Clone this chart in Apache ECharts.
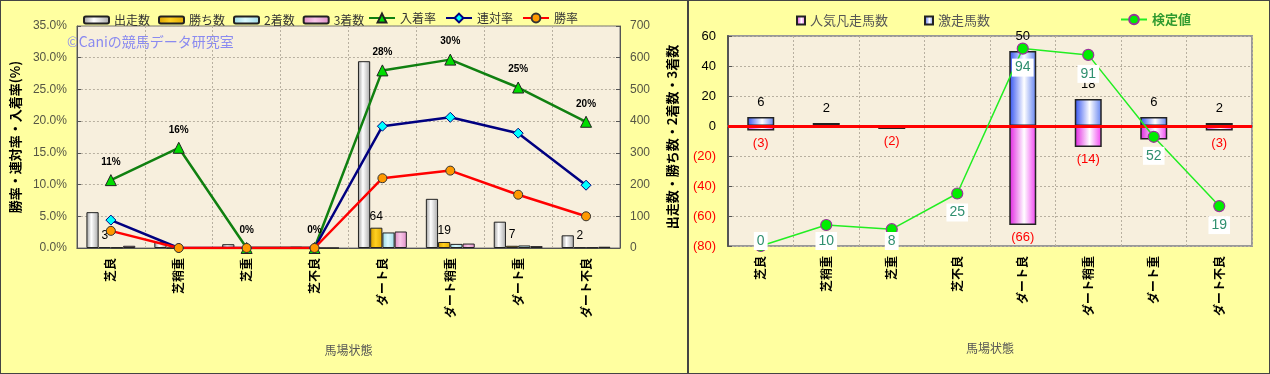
<!DOCTYPE html>
<html><head><meta charset="utf-8">
<script src="https://cdn.jsdelivr.net/npm/echarts@6/dist/echarts.min.js"></script>
<style>
html,body{margin:0;padding:0;background:#fff;}
.panel{position:absolute;top:0;height:374px;box-sizing:border-box;border:1px solid #444;background:#FFFFA0;}
#c1{left:0;width:688px;}
#c2{left:688px;width:582px;}
</style></head>
<body>
<div id="c1" class="panel"></div>
<div id="c2" class="panel"></div>
<script>
// ---- data ----
const categories = ['芝良','芝稍重','芝重','芝不良','ダート良','ダート稍重','ダート重','ダート不良'];
// left chart (counts, right axis)
const runs    = [113, 19, 12, 4, 589, 155, 83, 40];
const wins    = [3, 0, 0, 0, 64, 19, 7, 2];
const seconds = [2, 0, 0, 0, 49, 13, 8, 2];
const thirds  = [7, 3, 0, 0, 52, 14, 6, 4];
// left chart (rates %, left axis)
const placeRate = [10.7, 15.8, 0, 0, 28.0, 29.7, 25.3, 19.9];
const top2Rate  = [4.4, 0, 0, 0, 19.2, 20.6, 18.1, 9.9];
const winRate   = [2.7, 0, 0, 0, 11.0, 12.2, 8.4, 5.0];
const leftTicksPct = [0, 35, 5];
const rightTicksCnt = [0, 700, 100];
// right chart
const surgeCount = [6, 2, 0, 0, 50, 18, 6, 2];        // 激走馬数
const flopCount  = [-3, 0, -2, 0, -66, -14, -9, -3];  // 人気凡走馬数
const testValue  = [0, 10, 8, 25, 94, 91, 52, 19];     // 検定値
const rightTicks = [-80, 60, 20];

const JP = "'Noto Sans CJK JP', sans-serif";
const NUM = "'Liberation Sans', Arial, sans-serif";
function hgrad(a, b, c, mid) {
  return new echarts.graphic.LinearGradient(0, 0, 1, 0, [
    {offset: 0, color: a}, {offset: mid, color: b}, {offset: 1, color: c}
  ]);
}
const splitStyle = {show: true, lineStyle: {color: '#b8b0a0', type: [2, 2], width: 1}};

// ---------- left chart ----------
const ch1 = echarts.init(document.getElementById('c1'));
const barBase = {type: 'bar', yAxisIndex: 1, barGap: 0, barCategoryGap: '28%'};
ch1.setOption({
  animation: false,
  textStyle: {fontFamily: JP},
  grid: {left: 66, top: 25, width: 557, height: 222, show: true,
         backgroundColor: '#F7EFDD', borderColor: '#777', borderWidth: 1},
  legend: [{
    data: ['出走数','勝ち数','2着数','3着数'],
    left: 82, top: 13, padding: 0, itemWidth: 25, itemHeight: 7, itemGap: 8, icon: 'roundRect',
    textStyle: {fontSize: 12, color: '#333', fontFamily: JP}
  }, {
    data: ['入着率','連対率','勝率'],
    left: 367, top: 11, padding: 0, itemWidth: 26, itemHeight: 11, itemGap: 9,
    textStyle: {fontSize: 12, color: '#333', fontFamily: JP}
  }],
  graphic: [{type: 'text', left: 66, top: 34,
    style: {text: '©Caniの競馬データ研究室', fill: '#8a8af0', font: '14px ' + JP}}],
  xAxis: {
    type: 'category', data: categories,
    axisLine: {lineStyle: {color: '#555'}}, axisTick: {show: false},
    axisLabel: {rotate: 90, margin: 10, color: '#000', fontSize: 12, fontWeight: 'bold', fontFamily: JP},
    splitLine: splitStyle,
    name: '馬場状態', nameLocation: 'middle', nameGap: 96,
    nameTextStyle: {color: '#555', fontSize: 12, fontFamily: JP}
  },
  yAxis: [{
    type: 'value', min: leftTicksPct[0], max: leftTicksPct[1], interval: leftTicksPct[2],
    axisLine: {show: true, lineStyle: {color: '#555'}},
    axisTick: {show: true, inside: true, length: 4, lineStyle: {color: '#555'}},
    axisLabel: {formatter: v => v.toFixed(1) + '%', color: '#555544', fontSize: 12, fontFamily: NUM, margin: 10},
    splitLine: splitStyle,
    name: '勝率・連対率・入着率(%)', nameLocation: 'middle', nameRotate: 90, nameGap: 42,
    nameTextStyle: {color: '#000', fontSize: 13, fontWeight: 'bold', fontFamily: JP}
  }, {
    type: 'value', min: rightTicksCnt[0], max: rightTicksCnt[1], interval: rightTicksCnt[2],
    axisLine: {show: true, lineStyle: {color: '#555'}},
    axisTick: {show: true, inside: true, length: 4, lineStyle: {color: '#555'}},
    axisLabel: {color: '#555544', fontSize: 12, fontFamily: NUM, margin: 10},
    splitLine: {show: false},
    name: '出走数・勝ち数・2着数・3着数', nameLocation: 'middle', nameRotate: 90, nameGap: 46,
    nameTextStyle: {color: '#000', fontSize: 13, fontWeight: 'bold', fontFamily: JP}
  }],
  series: [
    Object.assign({}, barBase, {name: '出走数', data: runs,
      itemStyle: {color: hgrad('#9a9a9a', '#ffffff', '#a8a8a8', 0.4), borderColor: '#222', borderWidth: 1}}),
    Object.assign({}, barBase, {name: '勝ち数', data: wins,
      itemStyle: {color: hgrad('#d8a000', '#ffd020', '#e0a800', 0.45), borderColor: '#222', borderWidth: 1},
      label: {show: true, position: 'top', distance: 5, color: '#000', fontSize: 12, fontFamily: NUM,
              formatter: p => p.value ? String(p.value) : ''}}),
    Object.assign({}, barBase, {name: '2着数', data: seconds,
      itemStyle: {color: hgrad('#98d8e4', '#dcfaff', '#a0dce8', 0.45), borderColor: '#222', borderWidth: 1}}),
    Object.assign({}, barBase, {name: '3着数', data: thirds,
      itemStyle: {color: hgrad('#e08cc4', '#f8c8e8', '#e090c8', 0.45), borderColor: '#222', borderWidth: 1}}),
    {name: '入着率', type: 'line', yAxisIndex: 0, data: placeRate, z: 4,
      lineStyle: {color: '#108010', width: 2.5}, symbol: 'triangle', symbolSize: 11,
      itemStyle: {color: '#00dd00', borderColor: '#222', borderWidth: 1},
      label: {show: true, position: 'top', distance: 7, color: '#000', fontSize: 10, fontWeight: 'bold', fontFamily: NUM,
              formatter: p => Math.round(p.value) + '%'}},
    {name: '連対率', type: 'line', yAxisIndex: 0, data: top2Rate, z: 4,
      lineStyle: {color: '#000080', width: 2.5}, symbol: 'diamond', symbolSize: 10,
      itemStyle: {color: '#00ffff', borderColor: '#000080', borderWidth: 1}},
    {name: '勝率', type: 'line', yAxisIndex: 0, data: winRate, z: 4,
      lineStyle: {color: '#ff0000', width: 2.5}, symbol: 'circle', symbolSize: 9,
      itemStyle: {color: '#ff9900', borderColor: '#333', borderWidth: 1}}
  ]
});

// ---------- right chart ----------
const ch2 = echarts.init(document.getElementById('c2'));
const opt2 = {
  animation: false,
  textStyle: {fontFamily: JP},
  grid: {left: 39, top: 35, width: 524, height: 210, show: true,
         backgroundColor: '#F7EFDD', borderColor: '#999', borderWidth: 2},
  legend: [{
    data: ['人気凡走馬数', '激走馬数'],
    left: 107, top: 13, padding: 0, itemWidth: 8, itemHeight: 8, itemGap: 36, icon: 'rect',
    textStyle: {fontSize: 13, color: '#555', fontFamily: JP}
  }, {
    data: ['検定値'],
    left: 431, top: 12, padding: 0, itemWidth: 26, itemHeight: 12,
    textStyle: {fontSize: 13, color: '#2f9a2f', fontWeight: 'bold', fontFamily: JP}
  }],
  xAxis: {
    type: 'category', data: categories,
    axisLine: {lineStyle: {color: '#777', width: 2}}, axisTick: {show: false},
    axisLabel: {rotate: 90, margin: 10, color: '#000', fontSize: 12, fontWeight: 'bold', fontFamily: JP},
    splitLine: splitStyle,
    name: '馬場状態', nameLocation: 'middle', nameGap: 96,
    nameTextStyle: {color: '#555', fontSize: 12, fontFamily: JP}
  },
  yAxis: [{
    type: 'value', min: rightTicks[0], max: rightTicks[1], interval: rightTicks[2],
    axisLine: {show: true, lineStyle: {color: '#555', width: 2}},
    axisTick: {show: true, inside: true, length: 4, lineStyle: {color: '#555'}},
    axisLabel: {formatter: v => v < 0 ? '(' + (-v) + ')' : String(v),
                color: v => (Number(v) < 0 ? '#ff0000' : '#000'),
                fontSize: 13, fontFamily: NUM, margin: 12},
    splitLine: splitStyle
  }, {
    type: 'value', min: 0, max: 100, show: false, splitLine: {show: false}
  }],
  series: [
    {name: '人気凡走馬数', type: 'bar', data: flopCount, barWidth: 27, barGap: '-100%',
      itemStyle: {color: hgrad('#e020e0', '#ffffff', '#f040f0', 0.55), borderColor: '#222', borderWidth: 1.5},
      label: {show: true, position: 'bottom', distance: 6, color: '#ff0000', fontSize: 13, fontFamily: NUM,
              formatter: p => p.value ? '(' + (-p.value) + ')' : ''},
      markLine: {silent: true, symbol: 'none', label: {show: false},
                 lineStyle: {color: '#ff0000', width: 3, type: 'solid'}, data: [{yAxis: 0}], z: 3}},
    {name: '激走馬数', type: 'bar', data: surgeCount, barWidth: 27, barGap: '-100%',
      itemStyle: {color: hgrad('#3050f0', '#ffffff', '#6080f0', 0.55), borderColor: '#222', borderWidth: 1.5},
      label: {show: true, position: 'top', distance: 8, color: '#000', fontSize: 13, fontFamily: NUM,
              formatter: p => p.value ? String(p.value) : ''}},
    {name: '検定値', type: 'line', yAxisIndex: 1, data: testValue, z: 6,
      lineStyle: {color: '#22ee22', width: 1.5}, symbol: 'circle', symbolSize: 11,
      itemStyle: {color: '#00ee00', borderColor: '#993399', borderWidth: 1.2},
      label: {show: true, position: 'inside', color: '#2f8f6f', fontSize: 14, fontFamily: NUM,
              backgroundColor: '#ffffff', padding: [2, 3]}}
  ]
};
ch2.setOption(opt2);
// place line labels below points, kept inside the plot bottom (as in reference)
const bottomPx = ch2.convertToPixel({yAxisIndex: 1}, 0);
const lineData = testValue.map(v => {
  const py = ch2.convertToPixel({yAxisIndex: 1}, v);
  const center = Math.min(py + 19, bottomPx - 5);
  return {value: v, label: {offset: [0, center - py]}};
});
ch2.setOption({series: [{}, {}, {data: lineData}]});
</script>
</body></html>
